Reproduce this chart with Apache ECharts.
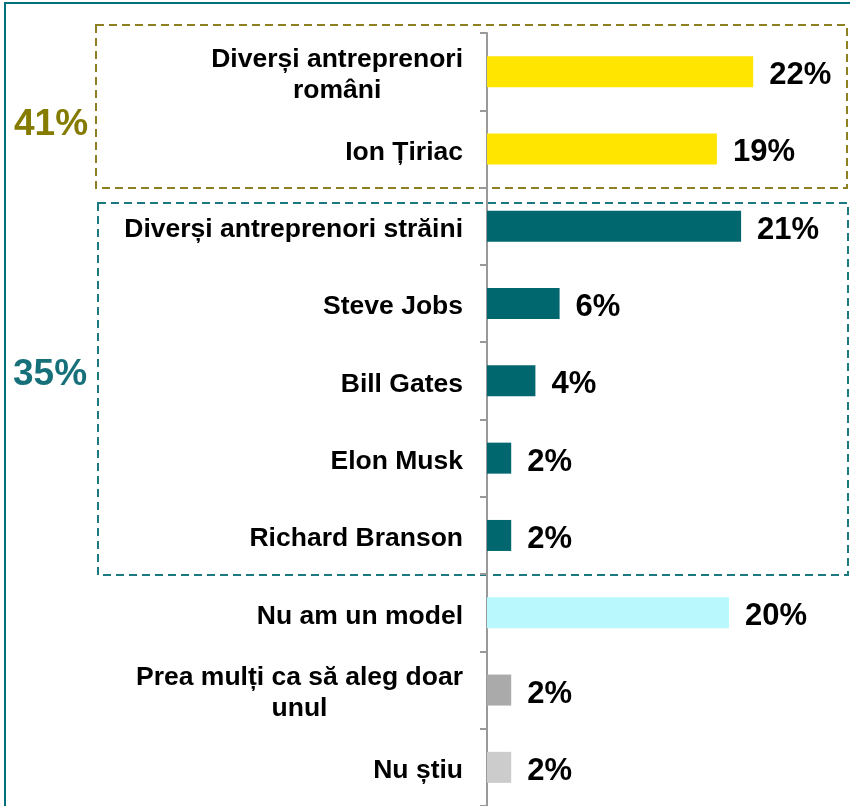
<!DOCTYPE html>
<html>
<head>
<meta charset="utf-8">
<script src="https://cdn.jsdelivr.net/npm/echarts@6/dist/echarts.min.js"></script>
<style>
html,body{margin:0;padding:0;background:#fff;}
#c{width:850px;height:806px;}
</style>
</head>
<body>
<div id="c"></div>
<script>
const categories = [
  'Diverși antreprenori\nromâni',
  'Ion Țiriac',
  'Diverși antreprenori străini',
  'Steve Jobs',
  'Bill Gates',
  'Elon Musk',
  'Richard Branson',
  'Nu am un model',
  'Prea mulți ca să aleg doar\nunul',
  'Nu știu'
];
const values = [22, 19, 21, 6, 4, 2, 2, 20, 2, 2];
const barColors = ['#FFE500', '#FFE500', '#00676F', '#00676F', '#00676F', '#00676F', '#00676F', '#B9F8FC', '#AAAAAA', '#CCCCCC'];
const groupLabels = ['41%', '35%'];

const chart = echarts.init(document.getElementById('c'), null, {renderer: 'canvas'});
const option = {
  animation: false,
  backgroundColor: '#ffffff',
  grid: {left: 487, top: 33, right: 0, height: 774},
  xAxis: {
    type: 'value', min: 0, max: 30, show: false
  },
  yAxis: {
    type: 'category',
    data: categories,
    inverse: true,
    axisLine: {show: true, lineStyle: {color: '#999999', width: 2}},
    axisTick: {show: true, length: 7, lineStyle: {color: '#999999', width: 2}},
    axisLabel: {
      margin: 24,
      color: '#000',
      fontFamily: 'Liberation Sans, Arial, sans-serif',
      fontWeight: 'bold',
      fontSize: 26.5,
      lineHeight: 31,
      align: 'right',
      padding: [7, 0, 0, 0],
      formatter: function (v) {
        return v.split('\n').map(s => '{c|' + s + '}').join('\n');
      },
      rich: {
        c: {
          align: 'center',
          color: '#000',
          fontFamily: 'Liberation Sans, Arial, sans-serif',
          fontWeight: 'bold',
          fontSize: 26.5,
          lineHeight: 31
        }
      }
    },
    splitLine: {show: false}
  },
  series: [{
    type: 'bar',
    data: values.map((v, i) => ({value: v, itemStyle: {color: barColors[i]}})),
    barWidth: 31,
    label: {
      show: true,
      position: 'right',
      distance: 16,
      offset: [0, 4],
      formatter: '{c}%',
      color: '#000',
      fontFamily: 'Liberation Sans, Arial, sans-serif',
      fontWeight: 'bold',
      fontSize: 31
    }
  }],
  graphic: [
    {type: 'rect', shape: {x: 5, y: 3, width: 900, height: 900}, style: {fill: 'none', stroke: '#00707A', lineWidth: 2}, silent: true},
    {type: 'rect', shape: {x: 96, y: 25, width: 751, height: 163}, style: {fill: 'none', stroke: '#8C8020', lineWidth: 2, lineDash: [8, 5]}, silent: true},
    {type: 'rect', shape: {x: 98, y: 203, width: 750, height: 372}, style: {fill: 'none', stroke: '#1A7A80', lineWidth: 2, lineDash: [8, 5]}, silent: true},
    {type: 'text', left: 14, top: 106, style: {text: groupLabels[0], fill: '#857B00', font: 'bold 37px "Liberation Sans", Arial, sans-serif'}},
    {type: 'text', left: 13, top: 356, style: {text: groupLabels[1], fill: '#16707A', font: 'bold 37px "Liberation Sans", Arial, sans-serif'}}
  ]
};
chart.setOption(option);
</script>
</body>
</html>
